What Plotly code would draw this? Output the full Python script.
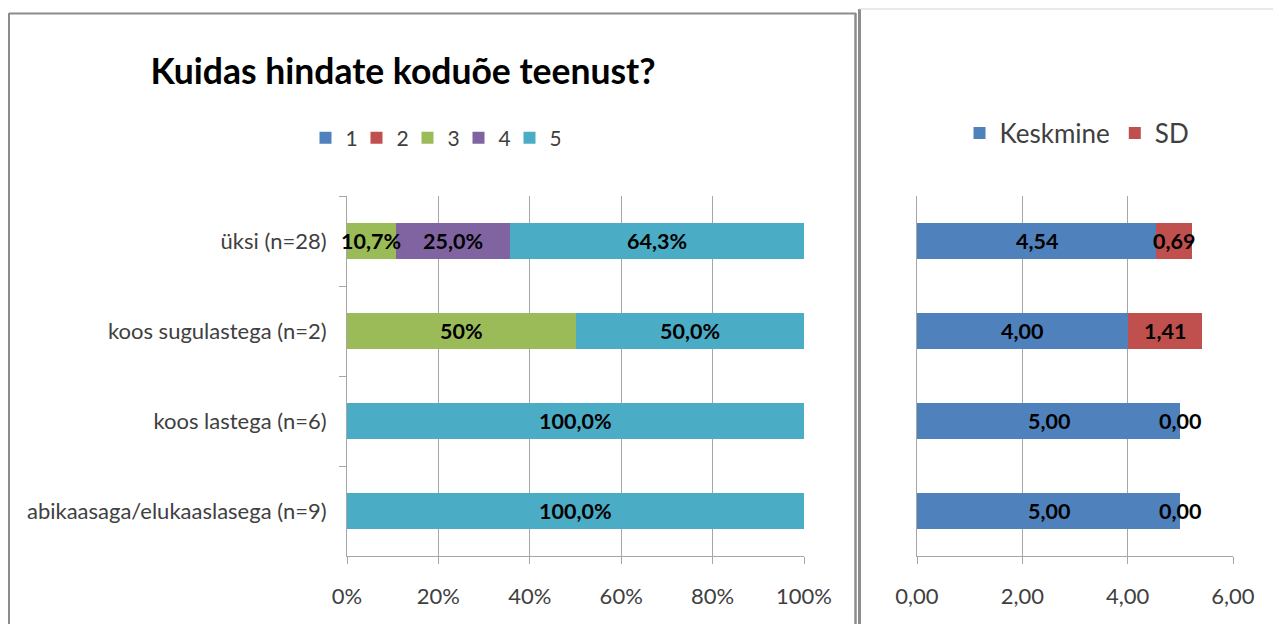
import plotly.graph_objects as go

# ---------------- data ----------------
categories = ["üksi (n=28)", "koos sugulastega (n=2)", "koos lastega (n=6)",
              "abikaasaga/elukaaslasega (n=9)"]
series_names = ["1", "2", "3", "4", "5"]
s1 = [0, 0, 0, 0]
s2 = [0, 0, 0, 0]
s3 = [10.7, 50, 0, 0]
s4 = [25.0, 0, 0, 0]
s5 = [64.3, 50.0, 100.0, 100.0]
labels1 = ["", "", "", ""]
labels2 = ["", "", "", ""]
labels3 = ["10,7%", "50%", "", ""]
labels4 = ["25,0%", "", "", ""]
labels5 = ["64,3%", "50,0%", "100,0%", "100,0%"]
pct_tickvals = [0, 20, 40, 60, 80, 100]
pct_ticktext = ["0%", "20%", "40%", "60%", "80%", "100%"]

stat_names = ["Keskmine", "SD"]
keskmine = [4.54, 4.00, 5.00, 5.00]
sd = [0.69, 1.41, 0.00, 0.00]
keskmine_labels = ["4,54", "4,00", "5,00", "5,00"]
sd_labels = ["0,69", "1,41", "0,00", "0,00"]
mean_tickvals = [0, 2, 4, 6]
mean_ticktext = ["0,00", "2,00", "4,00", "6,00"]

title_text = "Kuidas hindate koduõe teenust?"

# ---------------- styling ----------------
W, H = 1281, 624
OFF = 8  # page body margin
FONT = "Lato"
TXT = "#404040"
GRID = "#a6a6a6"
left_colors = ["#4F81BD", "#C0504D", "#9BBB59", "#8064A2", "#4BACC6"]
right_colors = ["#4F81BD", "#C0504D"]


def px(x):
    return (x - OFF) / W


def py(y):
    return 1 - (y - OFF) / H


fig = go.Figure()

left_series = [s1, s2, s3, s4, s5]
left_labels = [labels1, labels2, labels3, labels4, labels5]
for name, vals, col in zip(series_names, left_series, left_colors):
    fig.add_trace(go.Bar(
        y=categories, x=vals, name=name, orientation="h",
        marker=dict(color=col, line=dict(width=0)),
        xaxis="x", yaxis="y", legend="legend", hoverinfo="skip",
    ))

for name, vals, col in zip(stat_names, [keskmine, sd], right_colors):
    fig.add_trace(go.Bar(
        y=categories, x=vals, name=name, orientation="h",
        marker=dict(color=col, line=dict(width=0)),
        xaxis="x2", yaxis="y2", legend="legend2", hoverinfo="skip",
    ))

LBL = dict(family=FONT, size=21.5, color="#000000", weight="bold")
annotations = []
for ci, cat in enumerate(categories):
    base = 0
    for vals, labs in zip(left_series, left_labels):
        v = vals[ci]
        if labs[ci]:
            annotations.append(dict(
                x=base + v / 2, y=cat, xref="x", yref="y", text=labs[ci],
                showarrow=False, font=LBL))
        base += v
    base = 0
    for vals, labs in zip([keskmine, sd], [keskmine_labels, sd_labels]):
        v = vals[ci]
        annotations.append(dict(
            x=base + v / 2, y=cat, xref="x2", yref="y2", text=labs[ci],
            showarrow=False, font=LBL))
        base += v

shapes = [
    # left panel frame
    dict(type="line", xref="paper", yref="paper", x0=px(9), x1=px(856), y0=py(13.5), y1=py(13.5),
         line=dict(color="#8c8c8c", width=2)),
    dict(type="line", xref="paper", yref="paper", x0=px(9), x1=px(9), y0=py(13), y1=py(640),
         line=dict(color="#8c8c8c", width=2)),
    dict(type="line", xref="paper", yref="paper", x0=px(855.5), x1=px(855.5), y0=py(13), y1=py(640),
         line=dict(color="#8c8c8c", width=2.5)),
    # right panel frame
    dict(type="line", xref="paper", yref="paper", x0=px(859.5), x1=px(859.5), y0=py(9), y1=py(640),
         line=dict(color="#8c8c8c", width=3)),
    dict(type="line", xref="paper", yref="paper", x0=px(859), x1=px(1290), y0=py(9), y1=py(9),
         line=dict(color="#d4d4d4", width=1)),
]

ydom = [py(556), py(196)]
axis_font = dict(family=FONT, size=22, color=TXT)

fig.update_layout(
    width=W, height=H,
    margin=dict(l=0, r=0, t=0, b=0, autoexpand=False),
    paper_bgcolor="white", plot_bgcolor="white",
    barmode="stack", bargap=0.6,
    showlegend=True,
    title=dict(text=title_text, x=px(403), y=py(72), xanchor="center", yanchor="middle",
               xref="paper", yref="paper",
               font=dict(family=FONT, size=35.5, color="#000000", weight="bold")),
    xaxis=dict(domain=[px(347), px(804)], range=[0, 100], tickvals=pct_tickvals,
               ticktext=pct_ticktext, tickfont=axis_font, showgrid=True, gridcolor=GRID,
               gridwidth=1, showline=True, linecolor=GRID, linewidth=1, ticks="outside",
               ticklen=7, tickcolor=GRID, ticklabelstandoff=14, zeroline=False,
               anchor="y", fixedrange=True, automargin=False),
    yaxis=dict(domain=ydom, categoryorder="array", categoryarray=categories,
               autorange="reversed", tickfont=axis_font, showline=True, linecolor=GRID,
               linewidth=1, ticks="outside", ticklen=7, tickcolor=GRID,
               tickson="boundaries", ticklabelstandoff=15, showgrid=False,
               anchor="x", fixedrange=True, automargin=False),
    xaxis2=dict(domain=[px(917), px(1233)], range=[0, 6], tickvals=mean_tickvals,
                ticktext=mean_ticktext, tickfont=axis_font, showgrid=True, gridcolor=GRID,
                gridwidth=1, showline=True, linecolor=GRID, linewidth=1, ticks="outside",
                ticklen=7, tickcolor=GRID, ticklabelstandoff=14, zeroline=False,
                anchor="y2", fixedrange=True, automargin=False),
    yaxis2=dict(domain=ydom, categoryorder="array", categoryarray=categories,
                autorange="reversed", showticklabels=False, showline=True, linecolor=GRID,
                linewidth=1, ticks="", showgrid=False, anchor="x2", fixedrange=True,
                automargin=False),
    legend=dict(orientation="h", x=px(433), y=py(138), xanchor="center", yanchor="middle",
                xref="paper", yref="paper", font=dict(family=FONT, size=21, color=TXT),
                itemwidth=30, entrywidth=6, traceorder="normal", bgcolor="rgba(0,0,0,0)"),
    legend2=dict(orientation="h", x=px(1077), y=py(133), xanchor="center", yanchor="middle",
                 xref="paper", yref="paper", font=dict(family=FONT, size=26, color=TXT),
                 itemwidth=30, traceorder="normal", bgcolor="rgba(0,0,0,0)"),
    annotations=annotations,
    shapes=shapes,
)

fig.write_html("out.html")
